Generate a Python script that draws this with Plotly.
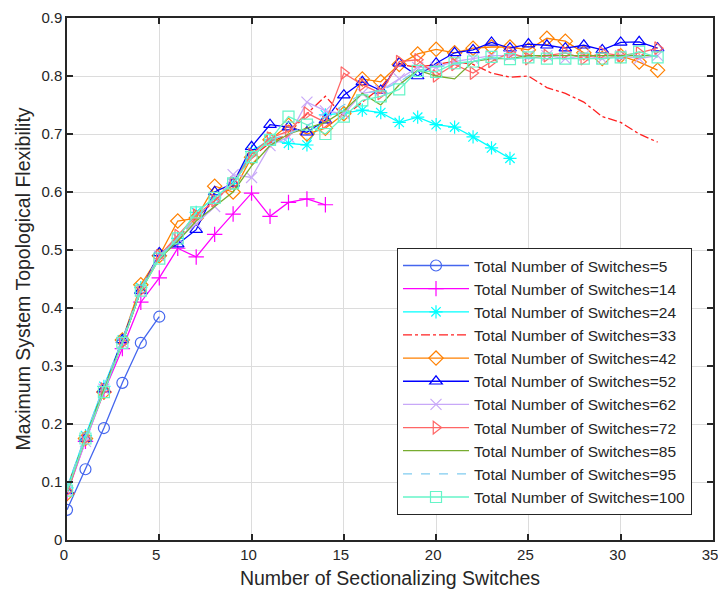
import plotly.graph_objects as go

x_ticks = [0, 5, 10, 15, 20, 25, 30, 35]
y_ticks = [0, 0.1, 0.2, 0.3, 0.4, 0.5, 0.6, 0.7, 0.8, 0.9]
y_tick_labels = ["0", "0.1", "0.2", "0.3", "0.4", "0.5", "0.6", "0.7", "0.8", "0.9"]

s5 = [0.052, 0.122, 0.193, 0.271, 0.34, 0.385]
s14 = [0.08, 0.17, 0.255, 0.33, 0.41, 0.452, 0.503, 0.488, 0.527, 0.562, 0.598, 0.558, 0.582, 0.588, 0.578]
s24 = [0.09, 0.18, 0.265, 0.345, 0.435, 0.49, 0.52, 0.565, 0.59, 0.615, 0.67, 0.69, 0.684, 0.681, 0.733,
       0.736, 0.741, 0.737, 0.72, 0.729, 0.716, 0.712, 0.695, 0.676, 0.658]
s33 = [0.09, 0.175, 0.26, 0.34, 0.43, 0.49, 0.52, 0.555, 0.585, 0.615, 0.66, 0.685, 0.70, 0.735, 0.765,
       0.73, 0.755, 0.78, 0.82, 0.815, 0.82, 0.825, 0.82, 0.805, 0.798, 0.80, 0.78, 0.77, 0.755, 0.73,
       0.72, 0.70, 0.686]
s42 = [0.08, 0.175, 0.255, 0.345, 0.44, 0.49, 0.55, 0.555, 0.61, 0.60, 0.66, 0.69, 0.715, 0.70, 0.71,
       0.735, 0.795, 0.79, 0.82, 0.838, 0.846, 0.84, 0.848, 0.85, 0.85, 0.845, 0.865, 0.86, 0.84, 0.83,
       0.835, 0.824, 0.81]
s52 = [0.085, 0.175, 0.26, 0.345, 0.43, 0.495, 0.51, 0.535, 0.60, 0.615, 0.678, 0.716, 0.712, 0.703, 0.724,
       0.767, 0.79, 0.775, 0.822, 0.80, 0.822, 0.84, 0.845, 0.858, 0.848, 0.855, 0.853, 0.848, 0.853, 0.845,
       0.858, 0.859, 0.848]
s62 = [0.085, 0.17, 0.26, 0.34, 0.43, 0.49, 0.52, 0.545, 0.575, 0.63, 0.625, 0.68, 0.695, 0.755, 0.74,
       0.735, 0.77, 0.775, 0.795, 0.815, 0.815, 0.825, 0.83, 0.835, 0.835, 0.835, 0.835, 0.83, 0.835, 0.83,
       0.835, 0.83, 0.835]
s72 = [0.085, 0.175, 0.26, 0.34, 0.43, 0.49, 0.525, 0.56, 0.585, 0.615, 0.665, 0.693, 0.705, 0.736, 0.72,
       0.805, 0.785, 0.77, 0.825, 0.828, 0.80, 0.82, 0.805, 0.825, 0.84, 0.83, 0.835, 0.84, 0.83, 0.84,
       0.835, 0.84, 0.848]
s85 = [0.085, 0.175, 0.26, 0.34, 0.43, 0.485, 0.515, 0.55, 0.575, 0.60, 0.645, 0.68, 0.70, 0.71, 0.72,
       0.74, 0.77, 0.75, 0.785, 0.81, 0.80, 0.795, 0.825, 0.83, 0.83, 0.835, 0.835, 0.835, 0.835, 0.835,
       0.835, 0.835, 0.835]
s95 = [0.09, 0.18, 0.265, 0.345, 0.435, 0.49, 0.52, 0.555, 0.59, 0.615, 0.66, 0.69, 0.70, 0.715, 0.73,
       0.75, 0.77, 0.775, 0.79, 0.81, 0.815, 0.82, 0.825, 0.83, 0.83, 0.83, 0.83, 0.83, 0.83, 0.83,
       0.83, 0.835, 0.835]
s100 = [0.085, 0.175, 0.255, 0.34, 0.43, 0.485, 0.52, 0.565, 0.59, 0.615, 0.66, 0.69, 0.73, 0.716, 0.70,
        0.73, 0.758, 0.765, 0.777, 0.809, 0.807, 0.822, 0.825, 0.833, 0.829, 0.832, 0.83, 0.83, 0.83, 0.83,
        0.832, 0.842, 0.832]

series = [
    ("Total Number of Switches=5", s5, "#4466EE", "circle-open", "solid"),
    ("Total Number of Switches=14", s14, "#FF00FF", "cross-thin-open", "solid"),
    ("Total Number of Switches=24", s24, "#00FFFF", "asterisk-open", "solid"),
    ("Total Number of Switches=33", s33, "#FF2020", None, "dashdot"),
    ("Total Number of Switches=42", s42, "#FF8000", "diamond-open", "solid"),
    ("Total Number of Switches=52", s52, "#0000FF", "triangle-up-open", "solid"),
    ("Total Number of Switches=62", s62, "#C8A8F8", "x-thin-open", "solid"),
    ("Total Number of Switches=72", s72, "#FF6666", "triangle-right-open", "solid"),
    ("Total Number of Switches=85", s85, "#77AC30", None, "solid"),
    ("Total Number of Switches=95", s95, "#80CCF0", None, "dash"),
    ("Total Number of Switches=100", s100, "#66F5C8", "square-open", "solid"),
]

FONT = "Liberation Sans, Arial"

fig = go.Figure()
for name, vals, color, sym, dash in series:
    xs = list(range(len(vals)))
    if sym is None:
        fig.add_trace(go.Scatter(x=xs, y=vals, name=name, mode="lines",
                                 line=dict(color=color, width=1.3, dash=dash)))
    else:
        fig.add_trace(go.Scatter(x=xs, y=vals, name=name, mode="lines+markers",
                                 line=dict(color=color, width=1.3, dash=dash),
                                 marker=dict(symbol=sym, size=11, color=color,
                                             line=dict(color=color, width=1.2))))

axis_common = dict(
    showgrid=True, gridcolor="#DCDCDC", gridwidth=1,
    showline=True, linecolor="#262626", linewidth=1.5, mirror="ticks",
    ticks="inside", ticklen=6, tickwidth=1.5, tickcolor="#262626",
    zeroline=False, automargin=False, ticklabeloverflow="allow",
    tickfont=dict(family=FONT, size=15, color="#262626"),
)

fig.update_xaxes(range=[0, 35], tickvals=x_ticks, ticklabelshift=-3,
                 title=dict(text="Number of Sectionalizing Switches",
                            font=dict(family=FONT, size=19.5, color="#262626"),
                            standoff=10),
                 **axis_common)
fig.update_yaxes(range=[0, 0.9], tickvals=y_ticks, ticktext=y_tick_labels,
                 title=dict(text="Maximum System Topological Flexibility",
                            font=dict(family=FONT, size=19.5, color="#262626"),
                            standoff=6),
                 **axis_common)

fig.update_layout(
    width=718, height=598,
    margin=dict(l=67, r=5, t=18, b=58),
    plot_bgcolor="white", paper_bgcolor="white",
    legend=dict(x=0.9675, y=0.048, xanchor="right", yanchor="bottom",
                bgcolor="white", bordercolor="#262626", borderwidth=1,
                font=dict(family=FONT, size=15.5, color="#262626"),
                itemwidth=66, tracegroupgap=0),
)

# remove the default page margin so the figure fills the 718x598 window exactly
fig.write_html("out.html",
               config={"displayModeBar": False},
               post_script="document.body.style.margin='0';document.body.style.overflow='hidden';")
